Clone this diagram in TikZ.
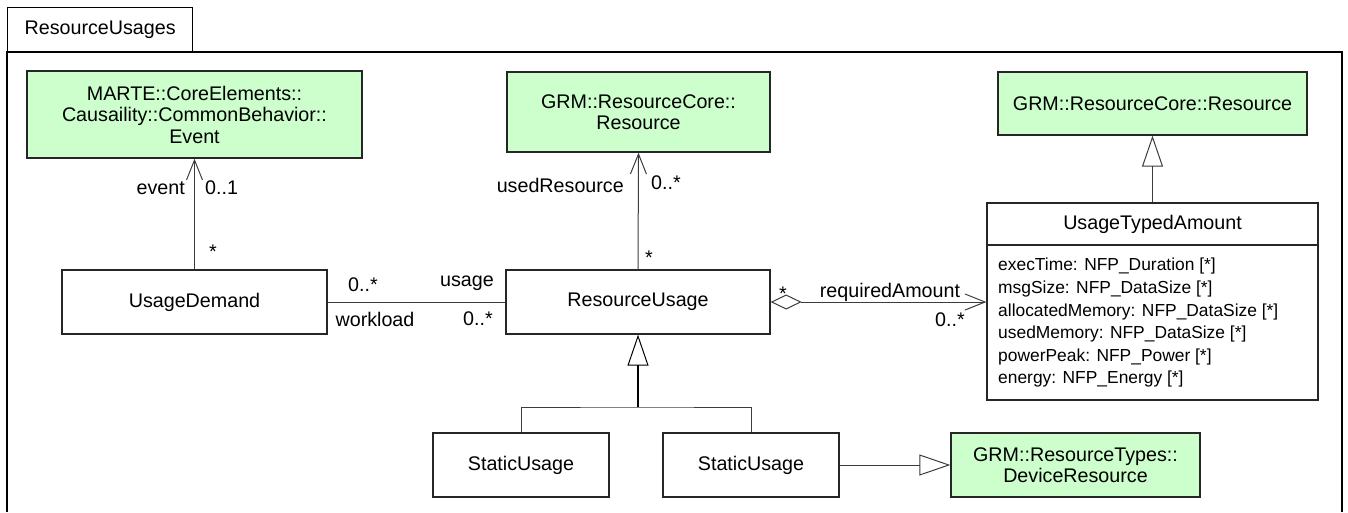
\documentclass[tikz,border=0pt]{standalone}
\usepackage{fontspec}
\setmainfont{Liberation Sans}
\usetikzlibrary{arrows.meta}
\definecolor{umlgreen}{RGB}{204,255,204}
\definecolor{umlline}{RGB}{60,60,60}
\newcommand{\namefont}{\fontsize{19.7}{21.5}\selectfont}
\newcommand{\attrfont}{\fontsize{17.4}{22.6}\selectfont}

\begin{document}
\begin{tikzpicture}[x=1pt, y=-1pt, font=\namefont,
  cls/.style={draw=black!85, line width=1.3pt, fill=white, align=center, inner sep=0pt},
  ext/.style={cls, fill=umlgreen},
  assoc/.style={draw=umlline, line width=1pt},
  navig/.style={assoc, -{Straight Barb[length=20pt, width=16pt]}},
  inherit/.style={assoc, -{Triangle[open, length=31pt, width=21pt, line width=1pt]}},
  lbl/.style={inner sep=0pt}]

\useasboundingbox (0,0) rectangle (1348,512);

% package frame
\draw[line width=1.3pt] (7,512) -- (7,52) -- (1342,52) -- (1342,512);
\node[draw, line width=1.3pt, anchor=south west, minimum width=185pt, minimum height=44pt] (tab) at (7,52) {ResourceUsages};

\node[ext, minimum width=335pt, minimum height=87pt] (event) at (194.5,114.5) {MARTE::CoreElements::\\Causaility::CommonBehavior::\\Event};
\node[ext, minimum width=263pt, minimum height=80pt] (usedres) at (638.5,112) {GRM::ResourceCore::\\Resource};
\node[ext, minimum width=309pt, minimum height=63pt] (resource) at (1152.5,103.5) {GRM::ResourceCore::Resource};
\node[cls, minimum width=265pt, minimum height=64pt] (demand) at (194.5,302) {UsageDemand};
\node[cls, minimum width=264pt, minimum height=64pt] (usage) at (638,302) {ResourceUsage};
\node[cls, minimum width=331pt, minimum height=197pt] (amount) at (1152.5,301.5) {};
\node[cls, minimum width=331pt, minimum height=42pt, anchor=north] (amountname) at (amount.north) {UsageTypedAmount};
\node[lbl, font=\attrfont, align=left, anchor=north west] (attrs) at (998,258) {execTime: NFP\_Duration [*]\\msgSize: NFP\_DataSize [*]\\allocatedMemory: NFP\_DataSize [*]\\usedMemory: NFP\_DataSize [*]\\powerPeak: NFP\_Power [*]\\energy: NFP\_Energy [*]};
\node[cls, minimum width=176pt, minimum height=64pt] (static1) at (521,465) {StaticUsage};
\node[cls, minimum width=176pt, minimum height=64pt] (static2) at (751,465) {StaticUsage};
\node[ext, minimum width=249pt, minimum height=64pt] (device) at (1075.5,465) {GRM::ResourceTypes::\\DeviceResource};

\coordinate (join) at (638,407);

\draw[navig] (demand.north) -- (event.south);
\draw[navig] (usage.north) -- (usedres.south);
\draw[assoc] (demand.east) -- (usage.west);
\draw[assoc, {Diamond[open, length=31pt, width=15pt]}-{Straight Barb[length=20pt, width=16pt]}] (usage.east) -- (amount.west |- usage.east);
\draw[inherit] (amount.north) -- (resource.south);
\draw[inherit, line width=1.8pt, draw=black] (join) -- (usage.south);
\draw[assoc] (static1.north) |- (join) -| (static2.north);
\draw[inherit] (static2.east) -- (device.west);

% role names and multiplicities
\foreach \name/\xy/\anc/\txt in {
  rEvent/{185,188}/east/{event}, mEvent/{205,188}/west/{0..1}, mDemand/{213,252}/center/{*},
  rUsed/{624,185}/east/{usedResource}, mUsed/{651,183}/west/{0..*}, mUsage/{649,258}/center/{*},
  mWork/{363,285}/center/{0..*}, rUsage/{467,283}/center/{usage},
  rWork/{375,319}/center/{workload}, mUsage2/{478,319}/center/{0..*},
  mAggr/{783,294}/center/{*}, rAmount/{890,292}/center/{requiredAmount}, mAmount/{950,320}/center/{0..*}}
  \node[lbl, anchor=\anc] (\name) at (\xy) {\txt};

\end{tikzpicture}
\end{document}
